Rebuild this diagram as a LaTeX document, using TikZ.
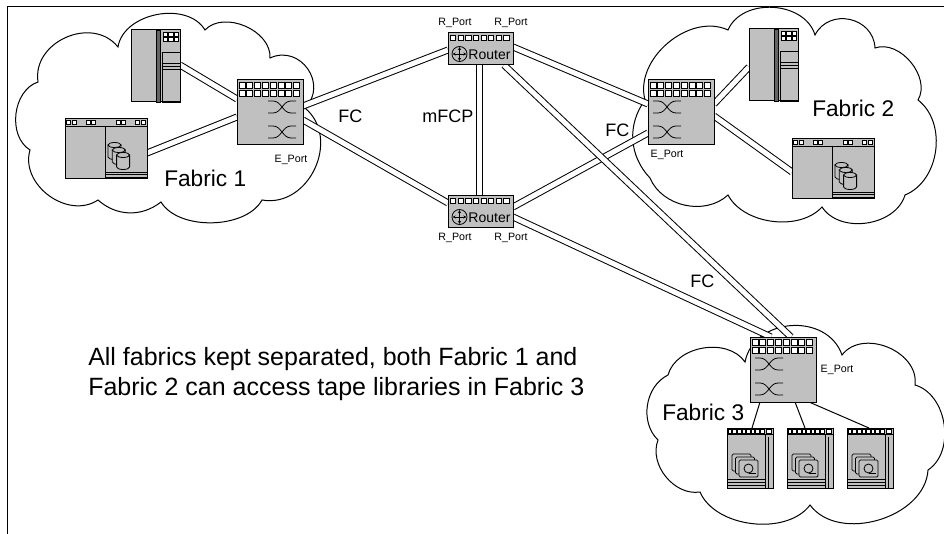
\documentclass[tikz,border=0pt]{standalone}
\usepackage{fontspec}
\setmainfont{Liberation Sans}
\usetikzlibrary{calc,arrows.meta}

\definecolor{devfill}{RGB}{192,192,192}
\definecolor{bandfill}{RGB}{100,100,100}

\pgfdeclarelayer{bg}
\pgfsetlayers{bg,main}

\tikzset{
  devbox/.style={draw=black, line width=0.75pt, fill=devfill, rectangle, inner sep=0pt, outer sep=0pt, anchor=north west},
  port/.style={draw=black, line width=0.5pt, fill=white},
  fine/.style={draw=black, line width=0.6pt},
  link/.style={draw=black, line width=0.75pt, double=white, double distance=3.75pt},
  wire/.style={draw=black, line width=0.75pt},
  cloudline/.style={draw=black, line width=0.75pt, fill=white},
  portlabel/.style={font=\fontsize{8}{9.6}\selectfont, inner sep=0pt},
  linklabel/.style={font=\fontsize{13.5}{16}\selectfont, inner sep=0pt, anchor=base west},
  fabriclabel/.style={font=\fontsize{17}{20}\selectfont, inner sep=0pt, anchor=base west},
  notetext/.style={font=\fontsize{18.75}{22.5}\selectfont, inner sep=0pt, anchor=base west},
  tip/.style={{Stealth[length=2.2pt,width=2.4pt]}-{Stealth[length=2.2pt,width=2.4pt]}},
  % FC switch; the argument is the x offset of the crossover symbols
  fcswitch/.pic={
    \node[devbox, minimum width=49.5pt, minimum height=48.75pt] (-box) at (0,0) {};
    \foreach \i in {0,...,7}{
      \draw[port] ({2+7.8*\i},2) rectangle ++(6,6);
      \draw[port] ({2+7.8*\i},10) rectangle ++(6,6);
    }
    \foreach \yy in {21,46}{
      \draw[fine] (#1,\yy) -- ++(5,0) to[out=0,in=180] ++(18,12) -- ++(5,0);
      \draw[fine] (#1,\yy+12) -- ++(5,0) to[out=0,in=180] ++(18,-12) -- ++(5,0);
    }
  },
  routerdev/.pic={
    \node[devbox, minimum width=48.75pt, minimum height=24pt] (-box) at (0,0) {};
    \foreach \i in {0,...,7} \draw[port] ({2.5+7.6*\i},2) rectangle ++(5.2,5);
    \draw[fine] (11.5,21) circle[radius=7.5];
    \draw[fine, tip] (11.5,14.2) -- (11.5,27.8);
    \draw[fine, tip] (4.7,21) -- (18.3,21);
    \node[font=\fontsize{10.5}{12}\selectfont, inner sep=0pt] (-txt) at (41.5,21.5) {Router};
  },
  serverdev/.pic={
    \node[devbox, minimum width=36.75pt, minimum height=54pt] (-box) at (0,0) {};
    \filldraw[fine, fill=bandfill] (25.5,0) rectangle (29.5,72);
    \foreach \c in {0,1,2} \foreach \r in {0,1}
      \draw[port] ({32+5.7*\c},{2.5+4.8*\r}) rectangle ++(4.3,3.8);
    \draw[fine] (31,22) rectangle (49,72);
    \foreach \yy in {33,36.5,39} \draw[fine] (31,\yy) -- (49,\yy);
  },
  storagedev/.pic={
    \node[devbox, minimum width=61.5pt, minimum height=45pt] (-box) at (0,0) {};
    \draw[fine] (0,7) -- (82,7);
    \foreach \xx in {1.5,7,21,26.5,51,56.5,70.5,76} \draw[port] (\xx,1.5) rectangle ++(4.3,4);
    \draw[fine] (40,7) -- (40,60);
    \foreach \k in {0,1,2}{
      \filldraw[fine, fill=devfill] ({43+4.3*\k},{26+5*\k}) -- ++(0,12)
        arc[start angle=180, end angle=0, x radius=6.5, y radius=2.5] -- ++(0,-12) -- cycle;
      \filldraw[fine, fill=devfill] ({49.5+4.3*\k},{26+5*\k}) ellipse[x radius=6.5, y radius=2.5];
    }
    \foreach \yy in {53,55.5,58} \draw[fine] (40,\yy) -- (82,\yy);
  },
  tapedev/.pic={
    \node[devbox, minimum width=34.5pt, minimum height=45pt] (-box) at (0,0) {};
    \foreach \i in {0,...,7} \draw[port] ({1.2+4.6*\i},1.2) rectangle ++(3.6,4);
    \draw[port] (39.5,1.2) rectangle ++(5,4);
    \draw[fine] (0,6.5) -- (46,6.5);
    \draw[fine] (38,6.5) -- (38,60);
    \draw[fine] (41,9) -- (41,60);
    \foreach \k in {0,1,2}
      \filldraw[fine, fill=devfill, rounded corners=1pt] ({5+3.5*\k},{26+3*\k}) rectangle ++(19,17);
    \draw[fine] (21.5,40.5) circle[radius=4.5];
    \draw[fine] (21.5,45) -- (29,45);
    \foreach \yy in {51.5,54.5,57.5} \draw[fine] (0,\yy) -- (38,\yy);
  },
}

\begin{document}
\begin{tikzpicture}[x=0.75pt, y=-0.75pt]
\useasboundingbox (0,0) rectangle (944,534);

% page frame (top and left edges)
\draw[line width=0.75pt] (944,7) -- (7,7) -- (7,534);

% devices
\pic (srv1) at (131,30) {serverdev};
\pic (sto1) at (65,119) {storagedev};
\pic (sw1) at (237,80) {fcswitch=31};
\pic (rt) at (448,33) {routerdev};
\pic (rb) at (448,196) {routerdev};
\pic (sw2) at (648,80) {fcswitch=5};
\pic (srv2) at (749,29) {serverdev};
\pic (sto2) at (792,139) {storagedev};
\pic (sw3) at (750,337) {fcswitch=5};
\pic (tp1) at (727,428) {tapedev};
\pic (tp2) at (787,428) {tapedev};
\pic (tp3) at (847,428) {tapedev};

\begin{pgfonlayer}{bg}
  % fabric clouds
  \draw[cloudline] (38,82) to[bend left=75, looseness=1.2] (118,47)
    to[bend left=70] (205,30) to[bend left=70] (270,58)
    to[bend left=80, looseness=1.4] (305,108) to[bend left=75, looseness=1.2] (262,200)
    to[bend left=60, looseness=0.85] (161,202) to[bend left=40] (98,200)
    to[bend left=70, looseness=1.1] (30,150) to[bend left=65] (38,82) -- cycle;
  \draw[cloudline] (645,100) to[bend left=65] (728,30)
    to[bend left=70, looseness=1.05] (815,35) to[bend left=75, looseness=1.3] (875,48)
    to[bend left=70] (918,100) to[bend left=60] (905,195)
    to[bend left=65] (822,207) to[bend left=55, looseness=0.9] (728,195)
    to[bend left=55] (650,178) to[bend left=40] (645,100) -- cycle;
  \draw[cloudline] (668,375) to[bend left=65] (745,362)
    to[bend left=75, looseness=1.2] (842,355) to[bend left=75, looseness=1.1] (915,385)
    to[bend left=65] (928,470) to[bend left=70] (810,505)
    to[bend left=60, looseness=0.9] (700,492) to[bend left=60] (658,440)
    to[bend left=55] (668,375) -- cycle;

  % FC and mFCP links
  \draw[link] ($(srv1-box.north east)+(0,35)$) -- ($(sw1-box.north west)+(0,19)$);
  \draw[link] ($(sto1-box.north east)+(0,34)$) -- ($(sw1-box.north west)+(0,37)$);
  \draw[link] ($(sw1-box.north east)+(0,26)$) -- ($(rt-box.north west)+(0,17)$);
  \draw[link] ($(sw1-box.north east)+(0,40)$) -- ($(rb-box.north west)+(0,7)$);
  \draw[link] ($(rt-box.south west)+(31,0)$) -- ($(rb-box.north west)+(31,0)$);
  \draw[link] ($(rt-box.north east)+(0,14)$) -- ($(sw2-box.north west)+(0,24)$);
  \draw[link] ($(rb-box.north east)+(0,11)$) -- ($(sw2-box.north west)+(0,53)$);
  \draw[link] ($(rt-box.south east)+(-9,0)$) -- ($(sw3-box.north west)+(41,0)$);
  \draw[link] ($(rb-box.north east)+(0,21)$) -- ($(sw3-box.north west)+(21,0)$);
  \draw[link] ($(sw2-box.north east)+(0,24)$) -- ($(srv2-box.north west)+(0,38)$);
  \draw[link] ($(sw2-box.north east)+(0,36)$) -- ($(sto2-box.north west)+(0,33)$);

  % tape library connections
  \draw[wire] ($(sw3-box.south west)+(10,0)$) -- ($(tp1-box.north west)+(25,0)$);
  \draw[wire] ($(sw3-box.south west)+(45,0)$) -- ($(tp2-box.north west)+(18,0)$);
  \draw[wire] ($(sw3-box.south east)+(-7,0)$) -- ($(tp3-box.north west)+(22,0)$);
\end{pgfonlayer}

% port labels
\node[portlabel] (rtp1) at (455,23) {R\_Port};
\node[portlabel] (rtp2) at (511,23) {R\_Port};
\node[portlabel] (rbp1) at (455,238) {R\_Port};
\node[portlabel] (rbp2) at (511,238) {R\_Port};
\node[portlabel] (ep1) at (291,160) {E\_Port};
\node[portlabel] (ep2) at (667,155) {E\_Port};
\node[portlabel] (ep3) at (837,370) {E\_Port};

% link labels
\node[linklabel] (fc1) at (338,123) {FC};
\node[linklabel] (mfcp) at (422,123) {mFCP};
\node[linklabel] (fc2) at (605,137) {FC};
\node[linklabel] (fc3) at (690,287) {FC};

% fabric names
\node[fabriclabel] (fab1) at (164,187) {Fabric 1};
\node[fabriclabel] (fab2) at (812,117) {Fabric 2};
\node[fabriclabel] (fab3) at (662,420) {Fabric 3};

% note
\node[notetext] (note1) at (88,365) {All fabrics kept separated, both Fabric 1 and};
\node[notetext] (note2) at (88,395) {Fabric 2 can access tape libraries in Fabric 3};
\end{tikzpicture}
\end{document}
